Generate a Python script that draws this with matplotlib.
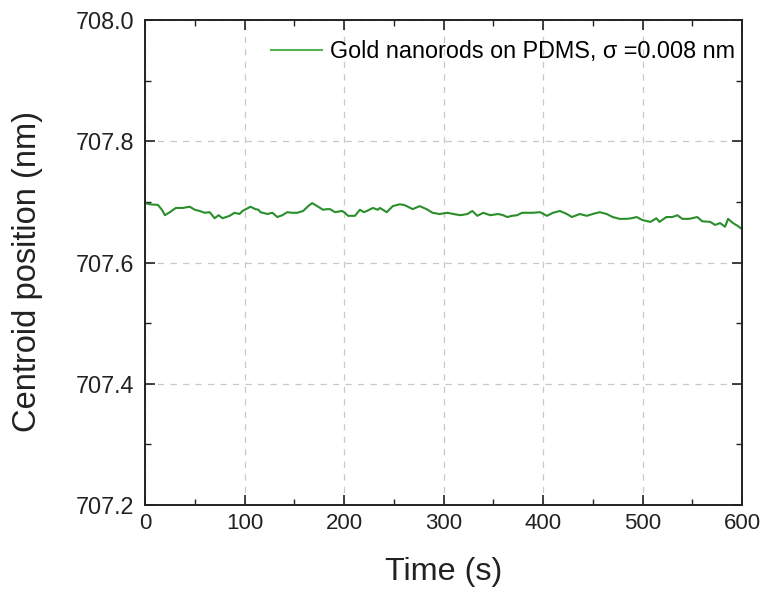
import matplotlib
matplotlib.use("Agg")
import matplotlib.pyplot as plt
from matplotlib.ticker import MultipleLocator

plt.rcParams['font.family'] = ['Liberation Sans', 'DejaVu Sans']

time_s = [0, 5, 13, 17, 20, 25, 31, 38, 45, 50, 55, 60, 65, 70, 74, 78, 85, 90, 95, 98,
          106, 111, 114, 116, 123, 128, 133, 138, 143, 148, 153, 159, 164, 168, 171, 174,
          179, 183, 186, 191, 198, 201, 204, 208, 211, 216, 220, 223, 229, 234, 236, 243,
          249, 256, 260, 263, 269, 276, 283, 289, 296, 304, 310, 317, 324, 329, 334, 340,
          347, 355, 360, 364, 369, 374, 379, 384, 390, 397, 404, 410, 417, 424, 429, 437,
          444, 450, 457, 464, 470, 477, 484, 489, 494, 500, 508, 514, 517, 524, 530, 535,
          540, 547, 555, 560, 568, 573, 578, 583, 586, 591, 596, 600]
centroid_nm = [707.698, 707.696, 707.695, 707.687, 707.678, 707.683, 707.690, 707.690,
               707.692, 707.687, 707.685, 707.682, 707.683, 707.673, 707.678, 707.673,
               707.677, 707.682, 707.680, 707.685, 707.692, 707.688, 707.687, 707.683,
               707.680, 707.682, 707.675, 707.678, 707.683, 707.682, 707.682, 707.685,
               707.693, 707.698, 707.695, 707.692, 707.687, 707.688, 707.688, 707.683,
               707.685, 707.682, 707.677, 707.677, 707.677, 707.687, 707.683, 707.685,
               707.690, 707.687, 707.690, 707.683, 707.693, 707.696, 707.695, 707.693,
               707.688, 707.693, 707.688, 707.682, 707.680, 707.682, 707.680, 707.678,
               707.680, 707.685, 707.677, 707.682, 707.678, 707.680, 707.678, 707.675,
               707.677, 707.678, 707.682, 707.682, 707.682, 707.683, 707.677, 707.682,
               707.685, 707.680, 707.675, 707.680, 707.677, 707.680, 707.683, 707.680,
               707.675, 707.672, 707.672, 707.673, 707.675, 707.670, 707.667, 707.673,
               707.667, 707.675, 707.675, 707.678, 707.672, 707.672, 707.675, 707.668,
               707.667, 707.662, 707.665, 707.659, 707.672, 707.665, 707.660, 707.655]

legend_label = "Gold nanorods on PDMS, σ =0.008 nm"
x_ticks = [0, 100, 200, 300, 400, 500, 600]
y_ticks = [707.2, 707.4, 707.6, 707.8, 708.0]

fig = plt.figure(figsize=(7.66, 5.90), dpi=100)
ax = fig.add_axes([145/766, 1 - 505/590, (742-145)/766, (505-20)/590])

ax.plot(time_s, centroid_nm, color='#2a8f2a', lw=1.5, label=legend_label)

ax.set_xlim(0, 600)
ax.set_ylim(707.2, 708.0)
ax.set_xticks(x_ticks)
ax.set_yticks(y_ticks)
ax.set_yticklabels([f"{v:.1f}" for v in y_ticks])
ax.xaxis.set_minor_locator(MultipleLocator(50))
ax.yaxis.set_minor_locator(MultipleLocator(0.1))
ax.tick_params(which='both', direction='in', top=True, right=True, colors='#222222')
ax.tick_params(axis='x', labelsize=16)
ax.tick_params(axis='y', labelsize=16.8)
ax.tick_params(which='major', length=7, width=1.2, pad=6)
ax.tick_params(axis='y', which='major', pad=8)
ax.tick_params(which='minor', length=4, width=1.0)
for s in ax.spines.values():
    s.set_linewidth(1.4)
    s.set_color('#222222')

ax.grid(True, which='major', ls=(0, (5, 5)), color='#c8c8c8', lw=0.9)

xl = ax.set_xlabel("Time (s)", fontsize=23.3, color='#222222')
yl = ax.set_ylabel("Centroid position (nm)", fontsize=23.5, color='#222222')
xl.set_va('center')
yl.set_va('center')
ax.xaxis.set_label_coords(0.5, -(572 - 505) / 485)
ax.yaxis.set_label_coords((28 - 145) / 597, (505 - 272) / 485)

leg = ax.legend(loc='upper right', frameon=False, fontsize=16.8, handlelength=2.2,
                borderaxespad=0.2, handletextpad=0.35, bbox_to_anchor=(1.012, 0.988))
for h in leg.get_lines():
    h.set_color('#55b455')

fig.savefig("out.png", dpi=100)
